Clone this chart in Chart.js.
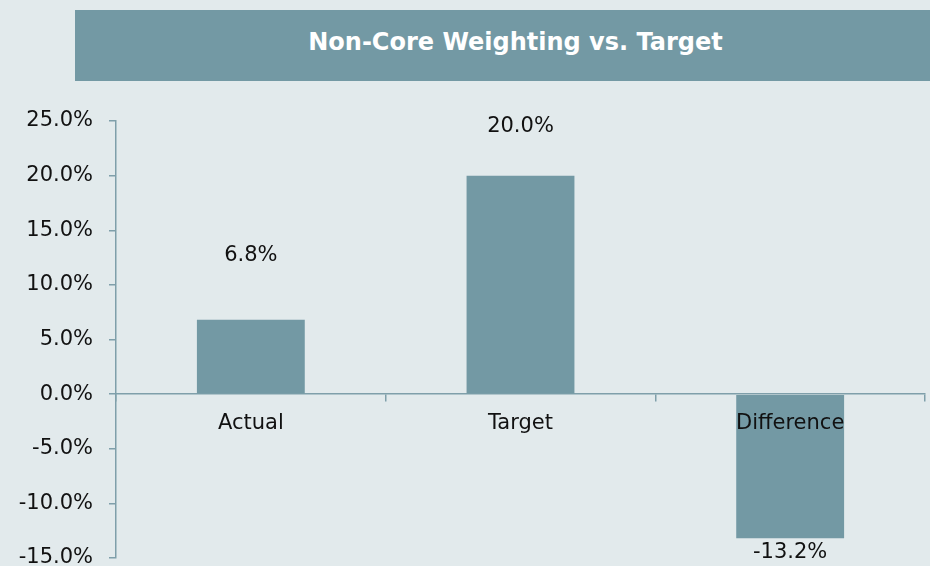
<!DOCTYPE html>
<html>
<head>
<meta charset="utf-8">
<script src="https://cdn.jsdelivr.net/npm/chart.js@4.4.1/dist/chart.umd.min.js"></script>
<style>
  html, body { margin: 0; padding: 0; background: #e2eaec; }
  #wrap { position: relative; width: 930px; height: 566px; overflow: hidden; background: #e2eaec; }
  #title {
    position: absolute; left: 75px; top: 10px; width: 855px; height: 71px;
    background: #7399a4; color: #ffffff;
    font-family: "DejaVu Sans", sans-serif; font-weight: bold; font-size: 24px;
    display: flex; align-items: center; justify-content: center;
    padding-left: 26px; padding-bottom: 7px; box-sizing: border-box;
  }
  canvas { position: absolute; left: 0; top: 0; }
</style>
</head>
<body>
<div id="wrap">
  <div id="title">Non-Core Weighting vs. Target</div>
  <canvas id="c" width="930" height="566"></canvas>
</div>
<script>
const categories = ["Actual", "Target", "Difference"];
const values = [6.8, 20.0, -13.2];
const yTicks = [-15, -10, -5, 0, 5, 10, 15, 20, 25];

const AXIS = "#7f9faa";
const FONT = "DejaVu Sans";
const FSIZE = 21;

const valueLabels = {
  id: "valueLabels",
  afterDatasetsDraw(chart, args, opts) {
    const ctx = chart.ctx;
    const meta = chart.getDatasetMeta(0);
    ctx.save();
    ctx.fillStyle = "#111";
    ctx.font = FSIZE + "px '" + FONT + "'";
    ctx.textAlign = "center";
    ctx.textBaseline = "middle";
    meta.data.forEach((bar, i) => {
      const v = chart.data.datasets[0].data[i];
      const off = opts.offsets[i];
      const y = v >= 0 ? bar.y - off : bar.y + off;
      ctx.fillText(v.toFixed(1) + "%", bar.x, y);
    });
    ctx.restore();
  }
};

new Chart(document.getElementById("c"), {
  type: "bar",
  data: {
    labels: categories,
    datasets: [{
      data: values,
      backgroundColor: "#7399a4",
      borderWidth: 0,
      barPercentage: 0.4,
      categoryPercentage: 1.0
    }]
  },
  options: {
    responsive: false,
    animation: false,
    layout: { padding: { left: 0, right: 5, top: 121, bottom: 8 } },
    plugins: {
      legend: { display: false },
      title: { display: false },
      tooltip: { enabled: false },
      valueLabels: { offsets: [64, 49, 14] }
    },
    scales: {
      x: {
        position: { y: 0 },
        offset: true,
        grid: { offset: true, drawOnChartArea: false, drawTicks: true, tickLength: 7, color: AXIS, lineWidth: 1.5 },
        border: { display: true, color: AXIS, width: 1.5 },
        ticks: { z: 1, color: "#111", font: { family: FONT, size: FSIZE }, padding: 10, maxRotation: 0, autoSkip: false },
        afterFit(s) { s.paddingLeft = 0; s.paddingRight = 0; }
      },
      y: {
        min: yTicks[0],
        max: yTicks[yTicks.length - 1],
        afterBuildTicks(s) { s.ticks = yTicks.map(v => ({ value: v })); },
        grid: { drawOnChartArea: false, drawTicks: true, tickLength: 7, color: AXIS, lineWidth: 1.5 },
        border: { display: true, color: AXIS, width: 1.5 },
        ticks: {
          color: "#111",
          font: { family: FONT, size: FSIZE },
          padding: 16,
          callback: v => v.toFixed(1) + "%"
        },
        afterFit(s) { s.width = 116; s.paddingTop = 0; s.paddingBottom = 0; }
      }
    }
  },
  plugins: [valueLabels]
});
</script>
</body>
</html>
